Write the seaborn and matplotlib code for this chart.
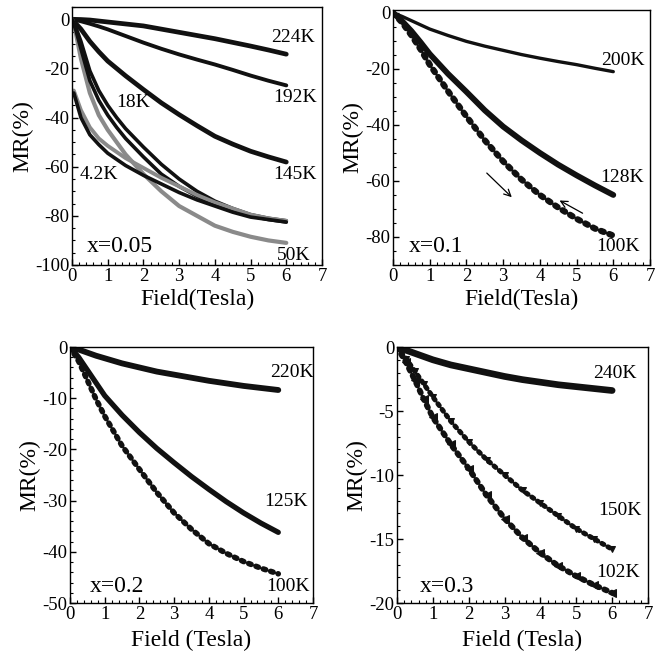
import numpy as np
import pandas as pd
import matplotlib
matplotlib.use("Agg")
import matplotlib.pyplot as plt
from matplotlib.ticker import MultipleLocator
import seaborn as sns

# ---------------- data ----------------
# panel (a) x = 0.05
f_a = [0, 0.25, 0.5, 0.75, 1, 1.5, 2, 2.5, 3, 3.5, 4, 4.5, 5, 5.5, 6]
mr_224K = [0, -0.1, -0.3, -0.7, -1.1, -1.9, -2.7, -4.0, -5.3, -6.6, -7.9, -9.4, -10.9, -12.5, -14.2]
mr_192K = [0, -0.8, -1.8, -2.9, -4.1, -6.8, -9.5, -12.0, -14.3, -16.4, -18.4, -20.6, -22.9, -25.0, -26.9]
mr_145K = [0, -4.0, -9.0, -13.2, -17.0, -23.0, -28.6, -34.0, -38.8, -43.3, -47.6, -50.8, -53.7, -56.0, -58.1]
f_a_low = [0, 0.1, 0.25, 0.5, 0.75, 1, 1.25, 1.5, 2, 2.5, 3, 3.5, 4, 4.5, 5, 5.5, 6]
mr_18K_up = [0, -3, -9, -21, -29, -35, -40, -44.5, -52, -59, -65, -70, -74, -77, -79.5, -81, -82]
mr_18K_dn = [0, -4, -12, -25, -33, -39, -44, -48.5, -56, -63, -68, -72, -75.5, -78, -80, -81.5, -82.5]
mr_50K = [0, -5, -16, -30, -39, -45, -50, -55, -63, -70, -76, -80, -84, -86.5, -88.5, -90, -91]
f_a_42 = [0.05, 0.25, 0.5, 0.75, 1, 1.5, 2, 2.5, 3, 3.5, 4, 4.5, 5, 5.5, 6]
mr_4K_a = [-29, -37, -44, -48.5, -51.5, -56.5, -60.5, -64.5, -68, -71.5, -74.5, -77, -79.5, -81, -82]
mr_4K_b = [-30, -40, -47, -51, -54.5, -59.5, -63.5, -67, -70.5, -73.5, -76, -78.5, -80.5, -81.5, -82.5]

# panel (b) x = 0.1
f_b = [0, 0.25, 0.5, 0.75, 1, 1.5, 2, 2.5, 3, 3.5, 4, 4.5, 5, 5.5, 6]
mr_200K = [0, -1.3, -2.8, -4.3, -5.8, -8.1, -10.2, -11.9, -13.4, -14.9, -16.2, -17.4, -18.5, -19.8, -21.0]
mr_128K = [0, -3.0, -6.5, -10.5, -14.7, -21.8, -28.2, -34.8, -40.6, -45.5, -50.0, -54.2, -58.0, -61.6, -65.0]
mr_100K_b = [0, -3.5, -8, -13, -18.5, -28, -37, -45.5, -53, -59.5, -65, -69.5, -73.5, -77, -79.5]

# panel (c) x = 0.2
f_c = [0, 0.25, 0.5, 0.75, 1, 1.5, 2, 2.5, 3, 3.5, 4, 4.5, 5, 5.5, 6]
mr_220K = [0, -0.5, -1.1, -1.7, -2.2, -3.2, -4.0, -4.8, -5.4, -6.0, -6.6, -7.1, -7.6, -8.0, -8.4]
mr_125K = [0, -2.0, -4.5, -7.0, -9.5, -13.3, -16.7, -19.8, -22.6, -25.3, -27.8, -30.2, -32.4, -34.4, -36.2]
mr_100K_c = [0, -2.8, -6.5, -10.2, -13.5, -19.3, -23.9, -28.4, -32.4, -35.6, -38.4, -40.3, -41.9, -43.2, -44.3]

# panel (d) x = 0.3
f_d = [0, 0.25, 0.5, 0.75, 1, 1.5, 2, 2.5, 3, 3.5, 4, 4.5, 5, 5.5, 6]
mr_240K = [0, -0.25, -0.5, -0.75, -1.0, -1.4, -1.7, -2.0, -2.3, -2.55, -2.75, -2.95, -3.1, -3.25, -3.4]
mr_150K = [0, -0.9, -1.9, -2.9, -3.9, -5.8, -7.4, -8.8, -10.0, -11.2, -12.2, -13.2, -14.2, -15.0, -15.8]
mr_102K = [0, -1.2, -2.6, -4.1, -5.5, -7.6, -9.5, -11.6, -13.4, -14.9, -16.1, -17.1, -17.9, -18.6, -19.2]

# ---------------- style ----------------
sns.set_theme(style="ticks")
plt.rcParams['font.family'] = ['Liberation Serif', 'DejaVu Serif']
plt.rcParams['axes.unicode_minus'] = False
plt.rcParams['xtick.direction'] = 'in'
plt.rcParams['ytick.direction'] = 'in'
plt.rcParams['axes.linewidth'] = 1.0
plt.rcParams['axes.edgecolor'] = 'black'
plt.rcParams['text.color'] = 'black'
plt.rcParams['axes.labelcolor'] = 'black'
plt.rcParams['xtick.color'] = 'black'
plt.rcParams['ytick.color'] = 'black'

fig = plt.figure(figsize=(6.65, 6.52), dpi=100)
W, H = 665, 652

def mkax(l, r, t, b):
    return fig.add_axes([l / W, 1 - b / H, (r - l) / W, (b - t) / H])

axA = mkax(72, 322, 7, 265)
axB = mkax(393, 650, 10, 265)
axC = mkax(70, 313, 347, 603)
axD = mkax(397, 648, 347, 603)

BLK = '#111111'
GRY = '#8a8a8a'

def curve(ax, x, y, color=BLK, lw=3.2, marker=None, ms=4, ls='-', dotted=False):
    sns.lineplot(x=x, y=y, ax=ax, color=color, lw=lw, marker=marker,
                 markersize=ms, linestyle=ls, markeredgecolor=color,
                 markerfacecolor=color, sort=False, estimator=None)
    if dotted:
        ln = ax.lines[-1]
        ln.set_dashes((0.45, 0.95))
        ln.set_dash_capstyle('round')

# panel A
curve(axA, f_a, mr_224K, lw=3.4)
curve(axA, f_a, mr_192K, lw=2.8)
curve(axA, f_a, mr_145K, lw=3.4)
curve(axA, f_a_low, mr_50K, color=GRY, lw=3.0)
curve(axA, f_a_low, mr_18K_up, lw=2.6)
curve(axA, f_a_low, mr_18K_dn, lw=2.6)
curve(axA, f_a_42, mr_4K_a, color=GRY, lw=2.8)
curve(axA, f_a_42, mr_4K_b, lw=2.6)

# panel B
curve(axB, f_b, mr_200K, lw=2.4)
curve(axB, f_b, mr_128K, lw=4.2)
curve(axB, f_b, mr_100K_b, lw=4.5, dotted=True)

# panel C
curve(axC, f_c, mr_220K, lw=4.2)
curve(axC, f_c, mr_125K, lw=3.8)
curve(axC, f_c, mr_100K_c, lw=4.0, dotted=True)

# panel D
curve(axD, f_d, mr_240K, lw=4.8)
curve(axD, f_d, mr_150K, lw=3.6, dotted=True)
curve(axD, f_d, mr_102K, lw=4.2, dotted=True)
sns.lineplot(x=f_d, y=mr_150K, ax=axD, color=BLK, lw=0, marker='v', markersize=5,
             markeredgecolor=BLK, markerfacecolor=BLK, estimator=None)
sns.lineplot(x=f_d, y=mr_102K, ax=axD, color=BLK, lw=0, marker='<', markersize=5.5,
             markeredgecolor=BLK, markerfacecolor=BLK, estimator=None)

TS = 13.5
LS = 17
AS = 14
XS = 17

def style(ax, ylim, ymaj, ymin, xlabel, xpad):
    ax.set_xlim(0, 7)
    ax.set_ylim(*ylim)
    ax.xaxis.set_major_locator(MultipleLocator(1))
    ax.xaxis.set_minor_locator(MultipleLocator(0.2))
    ax.yaxis.set_major_locator(MultipleLocator(ymaj))
    ax.yaxis.set_minor_locator(MultipleLocator(ymin))
    ax.tick_params(which='major', length=4, width=1, labelsize=TS, pad=2, colors='black')
    ax.tick_params(which='minor', length=2, width=0.8)
    ax.set_xlabel(xlabel, fontsize=LS, labelpad=xpad)
    ax.set_ylabel('MR(%)', fontsize=LS, labelpad=1)
    for s in ax.spines.values():
        s.set_visible(True)
        s.set_color('black')

style(axA, (-100, 5), 20, 5, 'Field(Tesla)', 3)
style(axB, (-90, 1), 20, 5, 'Field(Tesla)', 3)
style(axC, (-50, 0), 10, 2, 'Field (Tesla)', 5)
style(axD, (-20, 0), 5, 1, 'Field (Tesla)', 5)

def lab(ax, x, y, s, size=AS):
    ax.text(x, y, s, fontsize=size, ha='center', va='center', color='black')

lab(axA, 6.2, -7.5, '224K')
lab(axA, 6.25, -32, '192K')
lab(axA, 6.25, -63, '145K')
lab(axA, 6.2, -96, '50K')
lab(axA, 1.72, -34, '18K')
lab(axA, 0.74, -63, '4.2K')
lab(axA, 1.35, -92.5, 'x=0.05', XS)

lab(axB, 6.27, -17, '200K')
lab(axB, 6.23, -58.8, '128K')
lab(axB, 6.14, -83.5, '100K')
lab(axB, 1.18, -83.5, 'x=0.1', XS)
axB.annotate('', xy=(3.29, -66.5), xytext=(2.5, -56.5),
             arrowprops=dict(arrowstyle='->', color='black', lw=0.9))
axB.annotate('', xy=(4.47, -66.5), xytext=(5.23, -72),
             arrowprops=dict(arrowstyle='->', color='black', lw=0.9))

lab(axC, 6.38, -5, '220K')
lab(axC, 6.23, -30.1, '125K')
lab(axC, 6.28, -46.8, '100K')
lab(axC, 1.34, -46.8, 'x=0.2', XS)

lab(axD, 6.07, -2.1, '240K')
lab(axD, 6.21, -12.8, '150K')
lab(axD, 6.16, -17.6, '102K')
lab(axD, 1.39, -18.7, 'x=0.3', XS)

fig.savefig('out.png', dpi=100)
